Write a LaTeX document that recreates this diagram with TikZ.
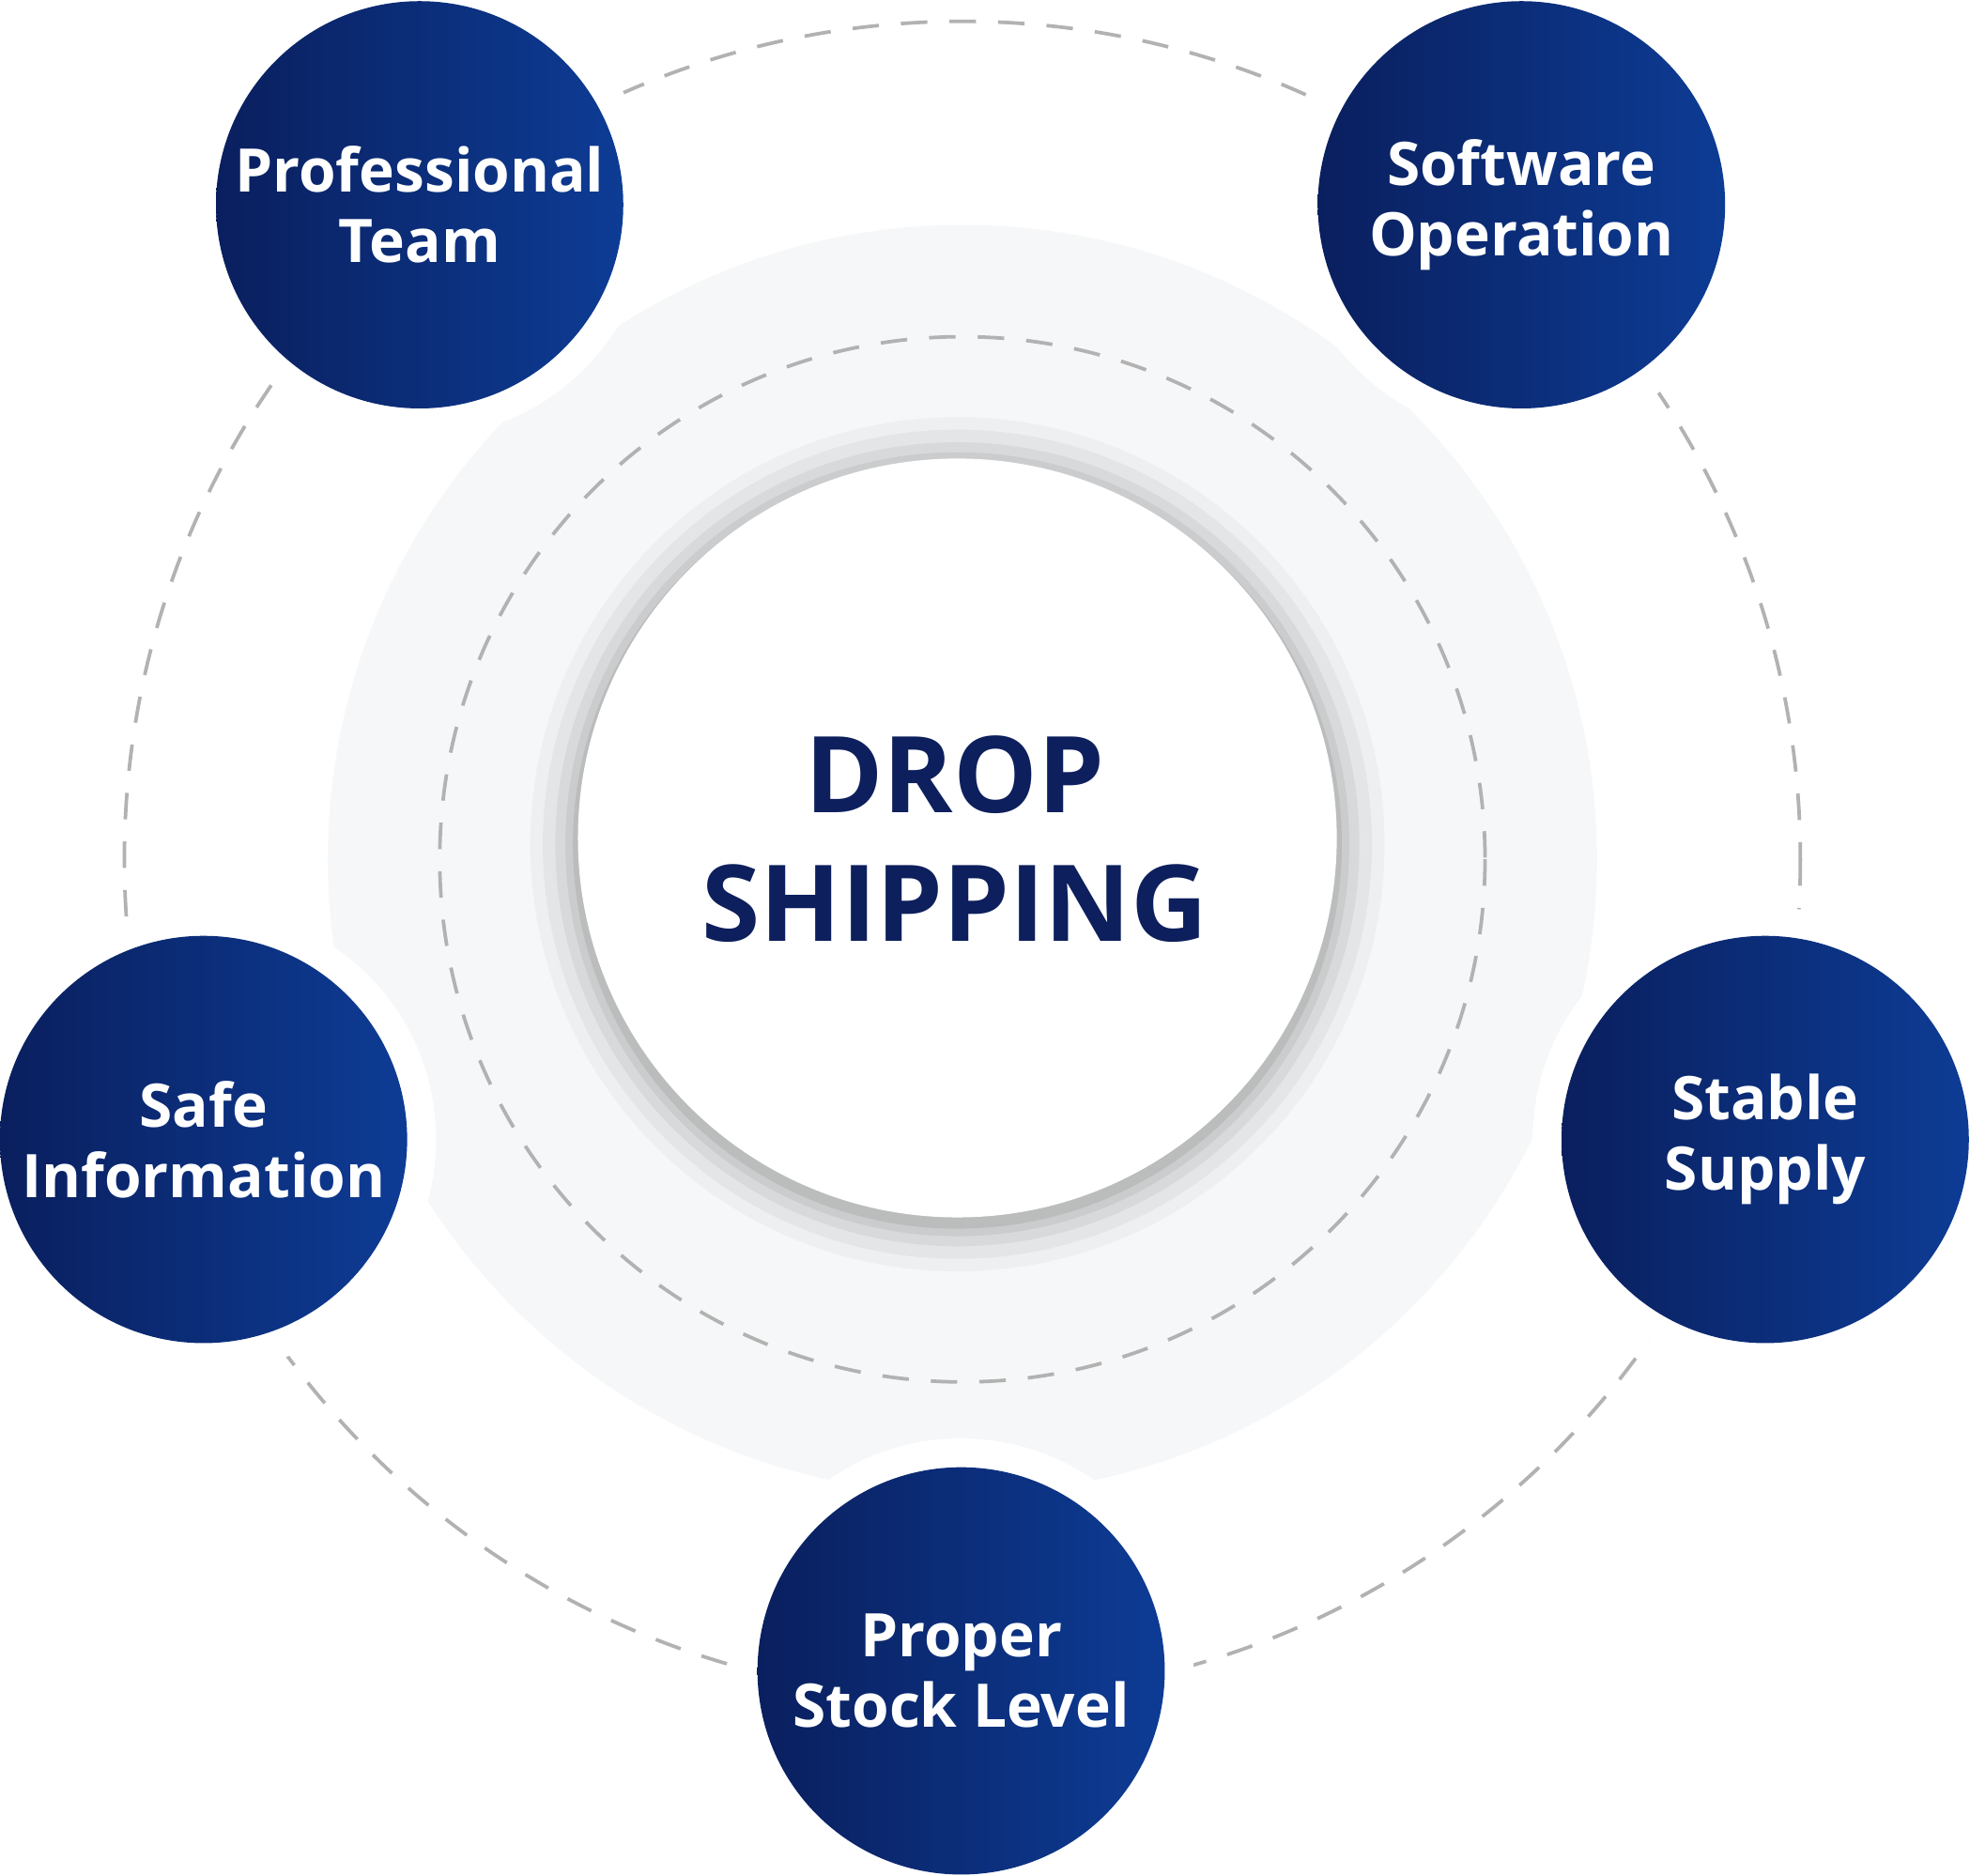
\documentclass[tikz,border=0pt]{standalone}
\usepackage{fontspec}
\setmainfont{Open Sans}
\begin{document}
\begin{tikzpicture}[x=0.01cm,y=-0.01cm,
  dashring/.style={draw=gray!60,line width=0.8pt,dash pattern=on 6pt off 5pt},
  blob/.style={circle,minimum size=3.24cm,inner sep=0pt,align=center,text=white,
    font=\bfseries\fontsize{13.6}{16}\selectfont,left color=navyA,right color=navyB},
  halo/.style={circle,fill=white,minimum size=3.7cm}]
\definecolor{navyA}{HTML}{0A1F5E}
\definecolor{navyB}{HTML}{0D3C95}
\definecolor{ringc}{HTML}{F6F7F8}
\definecolor{txt}{HTML}{0D1F5C}
\useasboundingbox[fill=white] (0,0) rectangle (1568,1493);
\coordinate (c) at (766,684);
\draw[dashring] (c) circle (667);
\fill[ringc] (c) circle (505);
\draw[dashring] (c) circle (416);
\foreach \r/\o in {340/0.03,330/0.04,320/0.05,312/0.06,306/0.08}
  \fill[black,opacity=\o] (762,672) circle (\r);
\fill[white] (762,667) circle (302);
\node[text=txt,align=center,font=\bfseries\fontsize{24}{29}\selectfont] (hub) at (760,668) {DROP\\SHIPPING};
\foreach \p/\n in {(334,163)/h1,(1211,163)/h2,(162,907)/h3,(1405,907)/h4,(765,1330)/h5}
  \node[halo] (\n) at \p {};
\node[blob] (a) at (334,163) {Professional\\Team};
\node[blob] (b) at (1211,163) {Software\\Operation};
\node[blob] (d) at (162,907) {Safe\\Information};
\node[blob] (e) at (1405,907) {Stable\\Supply};
\node[blob] (f) at (765,1330) {Proper\\Stock Level};
\end{tikzpicture}
\end{document}
